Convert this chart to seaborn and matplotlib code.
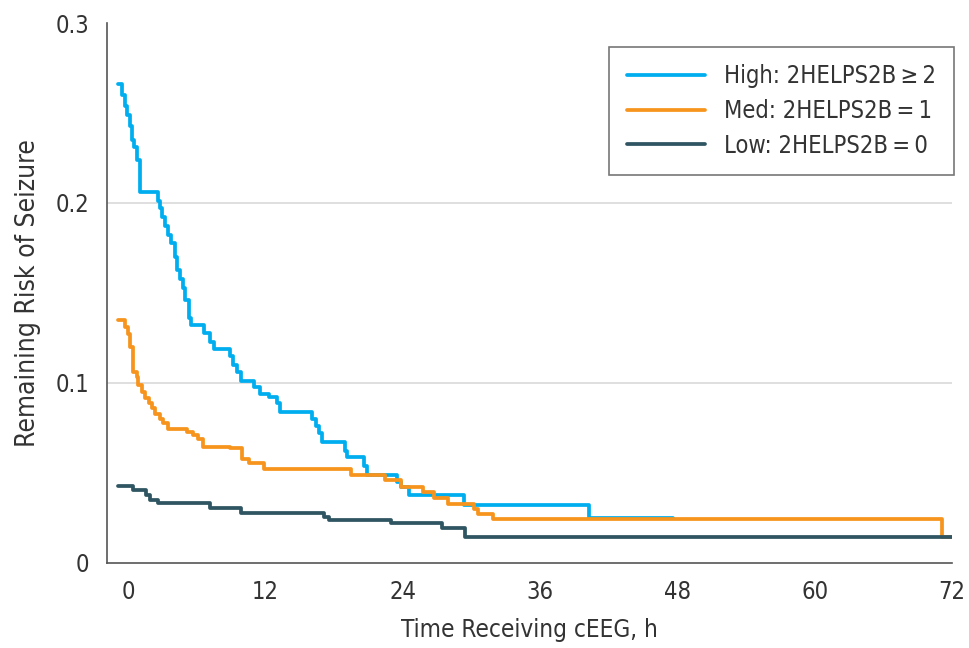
import numpy as np
import pandas as pd
import matplotlib
matplotlib.use('Agg')
import matplotlib.pyplot as plt
import seaborn as sns

# step points: time (h) where the risk drops, and the risk after it
high_t = [-0.85, -0.55, -0.3, -0.1, 0.15, 0.35, 0.55, 0.8, 1.05, 2.65, 2.8, 3.0, 3.25, 3.5, 3.8,
          4.1, 4.3, 4.55, 4.8, 5.0, 5.3, 5.55, 6.65, 7.2, 7.5, 8.95, 9.2, 9.5, 9.9, 11.0, 11.5,
          12.3, 13.0, 13.3, 16.1, 16.4, 16.7, 16.95, 19.0, 19.15, 20.6, 20.85, 23.5, 23.9, 24.6,
          29.4, 40.3, 47.65]
high_r = [0.266, 0.260, 0.254, 0.249, 0.243, 0.235, 0.231, 0.224, 0.206, 0.201, 0.197, 0.192, 0.187,
          0.182, 0.178, 0.170, 0.163, 0.158, 0.153, 0.146, 0.136, 0.132, 0.128, 0.123, 0.119, 0.115,
          0.110, 0.106, 0.101, 0.098, 0.094, 0.092, 0.089, 0.084, 0.080, 0.076, 0.072, 0.067, 0.062,
          0.059, 0.054, 0.049, 0.045, 0.042, 0.038, 0.032, 0.025, 0.025]

med_t = [-0.85, -0.3, 0.0, 0.15, 0.4, 0.75, 0.9, 1.2, 1.5, 1.8, 2.1, 2.35, 2.8, 3.1, 3.5, 5.2, 5.7,
         6.15, 6.6, 8.9, 10.0, 10.6, 11.9, 19.5, 22.45, 23.9, 25.8, 26.7, 28.0, 30.2, 30.6, 31.9,
         71.15, 72.1]
med_r = [0.135, 0.131, 0.127, 0.120, 0.106, 0.1035, 0.099, 0.095, 0.0915, 0.089, 0.086, 0.083, 0.080,
         0.0776, 0.0745, 0.073, 0.071, 0.069, 0.0646, 0.0637, 0.058, 0.0554, 0.0524, 0.049, 0.046,
         0.0424, 0.0396, 0.036, 0.033, 0.030, 0.027, 0.0245, 0.0146, 0.0146]

low_t = [-0.85, 0.4, 1.55, 1.9, 2.6, 7.2, 9.9, 17.1, 17.6, 23.0, 27.4, 29.45, 72.1]
low_r = [0.043, 0.0406, 0.0378, 0.035, 0.0335, 0.0304, 0.028, 0.0257, 0.024, 0.022, 0.0193, 0.0146,
         0.0146]

labels = ['High: 2HELPS2B\u2009\u2265\u20092', 'Med: 2HELPS2B\u2009=\u20091', 'Low: 2HELPS2B\u2009=\u20090']
colors = ['#00AEEF', '#F7941D', '#2E5561']

df = pd.concat([
    pd.DataFrame({'time': high_t, 'risk': high_r, 'group': labels[0]}),
    pd.DataFrame({'time': med_t, 'risk': med_r, 'group': labels[1]}),
    pd.DataFrame({'time': low_t, 'risk': low_r, 'group': labels[2]}),
])

sns.set_style('white')
plt.rcParams['font.family'] = ['DejaVu Sans']
plt.rcParams['font.stretch'] = 'condensed'

fig = plt.figure(figsize=(9.7, 6.48), dpi=100)
ax = fig.add_axes([0.1103, 0.1312, 0.8711, 0.8333])

sns.lineplot(data=df, x='time', y='risk', hue='group', palette=colors, estimator=None, sort=False,
             drawstyle='steps-post', linewidth=2.7, ax=ax, zorder=3)

ax.set_xlim(-1.83, 72)
ax.set_ylim(0, 0.3)
ax.set_xticks(np.arange(0, 73, 12))
ax.set_yticks([0, 0.1, 0.2, 0.3])
ax.set_yticklabels(['0', '0.1', '0.2', '0.3'])
for y in [0.1, 0.2]:
    ax.axhline(y, color='#d9d9d9', linewidth=1.2, zorder=1)

for s in ['top', 'right']:
    ax.spines[s].set_visible(False)
for s in ['left', 'bottom']:
    ax.spines[s].set_color('#555555')
    ax.spines[s].set_linewidth(1.2)
ax.tick_params(axis='both', direction='out', length=6, width=1.2, color='#555555',
               labelsize=17, labelcolor='#333333', pad=6)
ax.tick_params(axis='y', length=7)

ax.set_xlabel('Time Receiving cEEG, h', fontsize=17.5, color='#333333', labelpad=10)
ax.set_ylabel('Remaining Risk of Seizure', fontsize=19, color='#333333', labelpad=10)

leg = ax.legend(loc='upper right', bbox_to_anchor=(1.002, 0.956), fontsize=17, frameon=True,
                fancybox=False, handlelength=3.3, handletextpad=0.8, borderpad=0.75,
                labelspacing=0.45, borderaxespad=0)
leg.get_frame().set_edgecolor('#555555')
leg.get_frame().set_linewidth(1.2)
for t in leg.get_texts():
    t.set_color('#333333')

plt.savefig('out.png', dpi=100)
